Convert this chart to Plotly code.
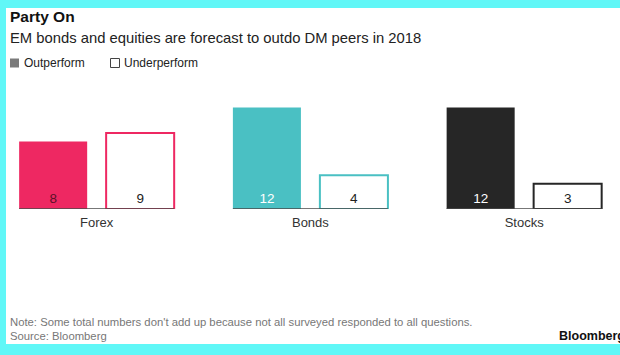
import plotly.graph_objects as go

W, H = 620, 355

categories = ["Forex", "Bonds", "Stocks"]
outperform = [8, 12, 12]
underperform = [9, 4, 3]
group_colors = ["#EE2862", "#4AC0C3", "#262626"]
outperform_text_colors = ["#5C1229", "#FFFFFF", "#FFFFFF"]
underperform_text_colors = ["#222222", "#222222", "#222222"]

title = "Party On"
subtitle = "EM bonds and equities are forecast to outdo DM peers in 2018"
legend_labels = ["Outperform", "Underperform"]
note = "Note: Some total numbers don't add up because not all surveyed responded to all questions."
source = "Source: Bloomberg"
brand = "Bloomberg"

FONT = "Arial, Liberation Sans, sans-serif"
CYAN = "#60F7F7"

M_L, M_R, M_T, M_B = 0, 0, 90, 146
PLOT_W = W - M_L - M_R
PLOT_H = H - M_T - M_B

BARGAP = 0.186
BARGROUPGAP = 0.218


def px(x):
    return (x - M_L) / PLOT_W


def py(y):
    return (H - M_B - y) / PLOT_H


fig = go.Figure()
fig.add_bar(
    x=categories, y=outperform, name=legend_labels[0],
    marker=dict(color=group_colors, line=dict(width=0)),
    text=[str(v) for v in outperform], textposition="inside",
    insidetextanchor="start", textangle=0, constraintext="none",
    insidetextfont=dict(color=outperform_text_colors, size=13.5, family=FONT),
    hoverinfo="skip", showlegend=False,
)
fig.add_bar(
    x=categories, y=underperform, name=legend_labels[1],
    marker=dict(color="white", line=dict(color=group_colors, width=2)),
    text=[str(v) for v in underperform], textposition="inside",
    insidetextanchor="start", textangle=0, constraintext="none",
    insidetextfont=dict(color=underperform_text_colors, size=13.5, family=FONT),
    hoverinfo="skip", showlegend=False,
)

shapes = []
# cyan frame
shapes.append(dict(type="rect", xref="paper", yref="paper", x0=px(0), x1=px(W), y0=py(0), y1=py(8),
                   fillcolor=CYAN, line=dict(width=0), layer="below"))
shapes.append(dict(type="rect", xref="paper", yref="paper", x0=px(0), x1=px(W), y0=py(344), y1=py(H),
                   fillcolor=CYAN, line=dict(width=0), layer="below"))
shapes.append(dict(type="rect", xref="paper", yref="paper", x0=px(0), x1=px(6), y0=py(0), y1=py(H),
                   fillcolor=CYAN, line=dict(width=0), layer="below"))

# group baselines
slot = (1 - BARGAP) / 2
half = slot - slot * BARGROUPGAP / 2
for i, _ in enumerate(categories):
    shapes.append(dict(type="line", xref="x", yref="y", x0=i - half, x1=i + half, y0=0, y1=0,
                       line=dict(color="#4a4a4a", width=1.5), layer="above"))

# legend swatches
shapes.append(dict(type="rect", xref="paper", yref="paper", x0=px(10), x1=px(19), y0=py(58.5), y1=py(67.5),
                   fillcolor="#7a7a7a", line=dict(width=0)))
shapes.append(dict(type="rect", xref="paper", yref="paper", x0=px(110.5), x1=px(119.5), y0=py(58.5), y1=py(67.5),
                   fillcolor="white", line=dict(color="#444444", width=1)))

annotations = [
    dict(text=f"<b>{title}</b>", x=px(8), y=py(16), font=dict(size=15.5, color="#111111", family=FONT)),
    dict(text=subtitle, x=px(8), y=py(37.5), font=dict(size=14.8, color="#222222", family=FONT)),
    dict(text=legend_labels[0], x=px(22), y=py(63), font=dict(size=12, color="#222222", family=FONT)),
    dict(text=legend_labels[1], x=px(122), y=py(63), font=dict(size=12, color="#222222", family=FONT)),
    dict(text=note, x=px(8), y=py(321.5), font=dict(size=11.3, color="#777777", family=FONT)),
    dict(text=source, x=px(8), y=py(335.5), font=dict(size=11.3, color="#777777", family=FONT)),
    dict(text=f"<b>{brand}</b>", x=px(557), y=py(336), font=dict(size=12.5, color="#111111", family=FONT)),
]
for a in annotations:
    a.update(xref="paper", yref="paper", xanchor="left", yanchor="middle", showarrow=False)

fig.update_layout(
    width=W, height=H,
    margin=dict(l=M_L, r=M_R, t=M_T, b=M_B, pad=0),
    paper_bgcolor="white", plot_bgcolor="white",
    barmode="group", bargap=BARGAP, bargroupgap=BARGROUPGAP,
    showlegend=False,
    shapes=shapes, annotations=annotations,
    font=dict(family=FONT),
    xaxis=dict(type="category", range=[-0.4522, 2.4484], showgrid=False, zeroline=False, showline=False,
               ticks="", ticklabelstandoff=4,
               tickfont=dict(size=13, color="#333333", family=FONT), fixedrange=True),
    yaxis=dict(range=[0, 14.08], showgrid=False, zeroline=False, showline=False, showticklabels=False,
               fixedrange=True),
)

fig.write_html(
    "out.html",
    config={"displayModeBar": False},
    post_script=(
        "var s=document.body.style;s.margin='0';s.padding='0';s.overflow='hidden';s.background='white';"
        "var h=document.documentElement.style;h.margin='0';h.padding='0';h.overflow='hidden';h.background='white';"
    ),
)
